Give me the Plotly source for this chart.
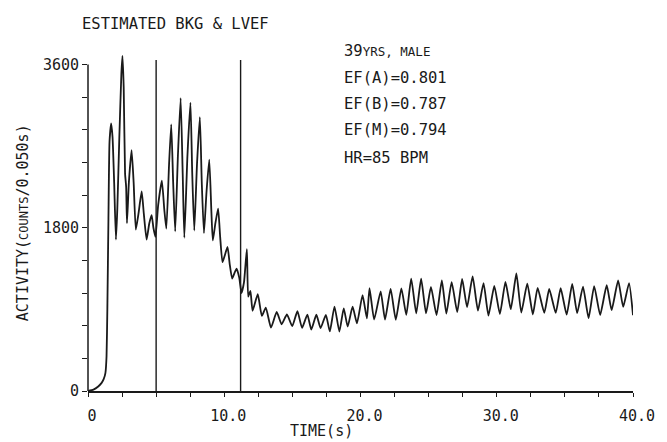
import plotly.graph_objects as go

# ---- data ----
time_s = [
    0.0, 0.4, 0.75, 1.0, 1.15, 1.28, 1.36, 1.42, 1.50, 1.58, 1.70, 1.80, 1.92, 2.05,
    2.15, 2.30, 2.45, 2.53, 2.62, 2.72, 2.80, 2.86, 3.0, 3.2, 3.35, 3.51, 3.7, 3.94,
    4.1, 4.3, 4.5, 4.67, 4.8, 4.95, 5.15, 5.42, 5.6, 5.75, 5.95, 6.11, 6.25, 6.4,
    6.6, 6.8, 6.95, 7.07, 7.3, 7.52, 7.65, 7.8, 8.0, 8.21, 8.35, 8.51, 8.7, 8.9,
    9.05, 9.16, 9.35, 9.55, 9.7, 9.87, 10.05, 10.24, 10.4, 10.58, 10.75, 10.91,
    11.1, 11.27, 11.45, 11.66, 11.76, 11.92, 12.08, 12.46, 12.76, 13.05, 13.43,
    13.85, 14.21, 14.6, 14.99, 15.37, 15.71, 16.1, 16.39, 16.76, 17.07, 17.46,
    17.75, 18.09, 18.45, 18.77, 19.06, 19.42, 19.74, 20.15, 20.47, 20.66, 21.0,
    21.48, 21.8, 22.21, 22.59, 23.0, 23.36, 23.72, 24.09, 24.45, 24.81, 25.17,
    25.58, 25.97, 26.3, 26.69, 27.1, 27.46, 27.82, 28.23, 28.62, 29.03, 29.39,
    29.82, 30.23, 30.64, 31.03, 31.44, 31.8, 32.24, 32.65, 33.0, 33.49, 33.85,
    34.33, 34.69, 35.13, 35.54, 35.9, 36.33, 36.74, 37.15, 37.59, 38.07, 38.43,
    38.91, 39.28, 39.71, 40.0,
]
activity = [
    0, 15, 50, 90, 130, 200, 380, 900, 1900, 2750, 2950, 2800, 2300, 1670,
    2000, 2800, 3500, 3695, 3350, 2400, 2250, 1850, 2300, 2655, 2300, 1780, 1950, 2200,
    1950, 1670, 1850, 1940, 1800, 1700, 2050, 2320, 2000, 1790, 2500, 2940, 2300, 1760,
    2600, 3230, 2400, 1690, 2600, 3180, 2400, 1770, 2500, 3020, 2300, 1740, 2200, 2550,
    2000, 1660, 1850, 2010, 1700, 1420, 1500, 1590, 1400, 1240, 1300, 1350,
    1250, 1080, 1200, 1564, 1040, 1105, 884, 1067, 829, 920, 699,
    871, 735, 844, 715, 880, 696, 842, 677, 841, 694, 840,
    657, 931, 656, 912, 710, 930, 746, 1057, 800, 1135, 788,
    1098, 787, 1126, 786, 1132, 840, 1240, 857, 1239, 856, 1147,
    837, 1219, 854, 1200, 871, 1235, 925, 1263, 887, 1189, 832,
    1159, 849, 1202, 902, 1296, 865, 1185, 845, 1137, 862, 1125,
    861, 1134, 842, 1181, 859, 1150, 803, 1157, 839, 1166, 892,
    1220, 928, 1190, 835,
]
marker_times = [5.0, 11.2]
marker_top = 3650

x_tick_vals = [i * 2.5 for i in range(17)]
x_tick_text = ["0" if v == 0 else (f"{v:.1f}" if v % 10 == 0 else "") for v in x_tick_vals]
y_tick_vals = [i * 360 for i in range(11)]
y_tick_text = [str(v) if v % 1800 == 0 else "" for v in y_tick_vals]

title_text = "ESTIMATED BKG & LVEF"
info_lines = ["EF(A)=0.801", "EF(B)=0.787", "EF(M)=0.794"]
hr_text = "HR=85 BPM"

FONT = "DejaVu Sans Mono"
INK = "#1a1a1a"

fig = go.Figure()
fig.add_trace(go.Scatter(
    x=time_s, y=activity, mode="lines",
    line=dict(color=INK, width=1.8, shape="spline", smoothing=0.5),
    hoverinfo="skip", showlegend=False,
))
for t in marker_times:
    fig.add_trace(go.Scatter(
        x=[t, t], y=[0, marker_top], mode="lines",
        line=dict(color=INK, width=1.4), hoverinfo="skip", showlegend=False,
    ))

# y-axis line only up to 3600
fig.add_shape(type="line", xref="paper", yref="y", x0=0, x1=0, y0=0, y1=3600,
              line=dict(color=INK, width=1.5))

W, H = 667, 442
L, R, T, B = 88, 26, 49.5, 51
pw, ph = W - L - R, H - T - B


def px(xp):
    return (xp - L) / pw


def py(yp):
    return (H - B - yp) / ph


ann = []
ann.append(dict(text=title_text, x=px(80), y=py(23), xanchor="left", yanchor="middle",
                font=dict(size=15.5)))
ann.append(dict(text="39<span style='font-size:12.5px'>YRS, MALE</span>", x=px(346), y=py(51),
                xanchor="left", yanchor="middle", font=dict(size=15.5)))
for i, s in enumerate(info_lines):
    ann.append(dict(text=s, x=px(346), y=py(78 + 25.7 * i), xanchor="left", yanchor="middle",
                    font=dict(size=15.5)))
ann.append(dict(text=hr_text, x=px(346), y=py(158), xanchor="left", yanchor="middle",
                font=dict(size=15.5)))
ann.append(dict(text="ACTIVITY(<span style='font-size:12px'>COUNTS</span>/0.050s)",
                x=px(22), y=py(222), xanchor="center", yanchor="middle", textangle=-90,
                font=dict(size=15)))
ann.append(dict(text="TIME(s)", x=px(325), y=py(431), xanchor="center", yanchor="middle",
                font=dict(size=15)))
for a in ann:
    a.update(xref="paper", yref="paper", showarrow=False)
    a["font"].update(family=FONT, color=INK)

fig.update_layout(
    width=W, height=H,
    margin=dict(l=L, r=R, t=T, b=B, pad=0),
    paper_bgcolor="white", plot_bgcolor="white",
    font=dict(family=FONT, color=INK, size=15),
    annotations=ann,
    xaxis=dict(range=[0, 40], tickmode="array", tickvals=x_tick_vals, ticktext=x_tick_text,
               ticks="outside", ticklen=4, tickwidth=1.3, tickcolor=INK,
               showline=True, linecolor=INK, linewidth=1.5, showgrid=False, zeroline=False,
               ticklabelstandoff=6, ticklabelshift=4, tickfont=dict(size=15)),
    yaxis=dict(range=[0, 3760], tickmode="array", tickvals=y_tick_vals, ticktext=y_tick_text,
               ticks="outside", ticklen=5, tickwidth=1.3, tickcolor=INK,
               showline=False, showgrid=False, zeroline=False, tickfont=dict(size=15)),
)

fig.write_html(
    "out.html",
    config={"displayModeBar": False},
    post_script="document.body.style.margin='0';document.body.style.overflow='hidden';",
)
